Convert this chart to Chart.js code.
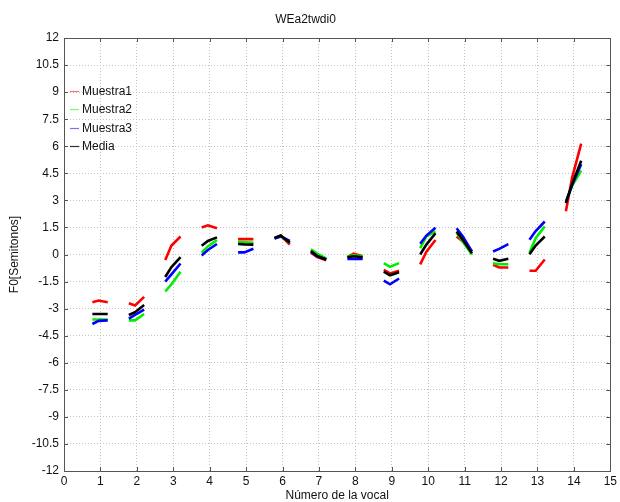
<!DOCTYPE html>
<html>
<head>
<meta charset="utf-8">
<script src="https://cdn.jsdelivr.net/npm/chart.js@4/dist/chart.umd.min.js"></script>
<style>
  html, body { margin: 0; padding: 0; background: #ffffff; }
  #wrap { width: 620px; height: 502px; }
</style>
</head>
<body>
<div id="wrap"><canvas id="c" width="620" height="502"></canvas></div>
<script>
// ---- data ----
const chartTitle = "WEa2twdi0";
const xTitle = "Número de la vocal";
const yTitle = "F0[Semitonos]";
const seriesNames = ["Muestra1", "Muestra2", "Muestra3", "Media"];
const seriesColors = ["#ff0000", "#00ee00", "#0000ff", "#000000"];
const vowels = [1, 2, 3, 4, 5, 6, 7, 8, 9, 10, 11, 12, 13, 14];
const xOffsets = [-0.22, -0.05, 0.2];
const xTicks = [0, 1, 2, 3, 4, 5, 6, 7, 8, 9, 10, 11, 12, 13, 14, 15];
const yTicks = [-12, -10.5, -9, -7.5, -6, -4.5, -3, -1.5, 0, 1.5, 3, 4.5, 6, 7.5, 9, 10.5, 12];

const muestra1 = [
  [-2.65, -2.55, -2.65], [-2.7, -2.83, -2.35], [-0.3, 0.5, 1.0], [1.5, 1.62, 1.45],
  [0.85, 0.85, 0.85], [0.9, 1.05, 0.55], [0.1, -0.15, -0.32], [-0.15, 0.05, -0.1],
  [-0.85, -1.05, -0.9], [-0.55, 0.15, 0.8], [1.0, 0.72, 0.17], [-0.57, -0.72, -0.72],
  [-0.9, -0.9, -0.28], [2.4, 4.25, 6.15]
];
const muestra2 = [
  [-3.6, -3.6, -3.6], [-3.65, -3.65, -3.3], [-2.05, -1.65, -0.95], [0.1, 0.45, 0.8],
  [0.7, 0.68, 0.65], [0.9, 1.03, 0.65], [0.28, 0.05, -0.22], [-0.1, -0.05, -0.1],
  [-0.48, -0.68, -0.48], [0.35, 1.0, 1.28], [1.2, 0.7, 0.0], [-0.48, -0.54, -0.54],
  [0.1, 0.9, 1.56], [2.95, 3.8, 4.65]
];
const muestra3 = [
  [-3.85, -3.68, -3.65], [-3.55, -3.35, -3.05], [-1.5, -1.1, -0.5], [-0.05, 0.25, 0.58],
  [0.12, 0.12, 0.32], [0.88, 1.0, 0.75], [0.15, -0.1, -0.28], [-0.25, -0.25, -0.25],
  [-1.45, -1.65, -1.33], [0.6, 1.05, 1.48], [1.46, 1.0, 0.17], [0.17, 0.31, 0.57],
  [0.82, 1.3, 1.83], [2.9, 3.85, 5.0]
];
const media = [
  [-3.3, -3.3, -3.3], [-3.35, -3.2, -2.8], [-1.25, -0.7, -0.15], [0.48, 0.75, 0.95],
  [0.58, 0.56, 0.55], [0.92, 1.05, 0.65], [0.2, -0.08, -0.28], [-0.15, -0.1, -0.15],
  [-0.95, -1.15, -0.98], [0.0, 0.55, 1.18], [1.28, 0.81, 0.07], [-0.24, -0.35, -0.24],
  [0.02, 0.5, 1.0], [2.85, 3.9, 5.2]
];
const seriesValues = [muestra1, muestra2, muestra3, media];

// ---- build points (segments separated by gaps) ----
function buildPoints(values) {
  const pts = [];
  vowels.forEach((v, i) => {
    values[i].forEach((y, k) => pts.push({ x: v + xOffsets[k], y: y }));
    pts.push({ x: v + 0.4, y: null });
  });
  return pts;
}

const datasets = seriesNames.map((name, i) => ({
  label: name,
  data: buildPoints(seriesValues[i]),
  borderColor: seriesColors[i],
  backgroundColor: seriesColors[i],
  borderWidth: 2.6,
  pointRadius: 0,
  fill: false,
  spanGaps: false,
  tension: 0,
  order: seriesNames.length - 1 - i
}));

const FONT = "'Liberation Sans', Arial, Helvetica, sans-serif";

const framePlugin = {
  id: 'frame',
  afterDraw(chart) {
    const { ctx, chartArea: a, scales } = chart;
    ctx.save();
    // inward ticks
    ctx.strokeStyle = '#555555';
    ctx.lineWidth = 1;
    const tl = 4;
    ctx.beginPath();
    xTicks.forEach(t => {
      const px = Math.round(scales.x.getPixelForValue(t)) + 0.5;
      ctx.moveTo(px, a.bottom); ctx.lineTo(px, a.bottom - tl);
      ctx.moveTo(px, a.top); ctx.lineTo(px, a.top + tl);
    });
    yTicks.forEach(t => {
      const py = Math.round(scales.y.getPixelForValue(t)) + 0.5;
      ctx.moveTo(a.left, py); ctx.lineTo(a.left + tl, py);
      ctx.moveTo(a.right, py); ctx.lineTo(a.right - tl, py);
    });
    ctx.stroke();
    // frame
    ctx.strokeStyle = '#555555';
    ctx.strokeRect(Math.round(a.left) + 0.5, Math.round(a.top) + 0.5,
                   Math.round(a.right - a.left), Math.round(a.bottom - a.top));
    // legend
    ctx.font = '12px ' + FONT;
    ctx.textBaseline = 'middle';
    ctx.textAlign = 'left';
    const lx = a.left + 6, ly = a.top + 53, step = 18.3;
    seriesNames.forEach((name, i) => {
      const y = Math.round(ly + i * step) + 0.5;
      ctx.strokeStyle = seriesColors[i];
      ctx.globalAlpha = i === 3 ? 0.8 : 0.55;
      ctx.lineWidth = 1.2;
      ctx.beginPath();
      ctx.moveTo(lx, y); ctx.lineTo(lx + 9, y);
      ctx.stroke();
      ctx.globalAlpha = 1;
      ctx.fillStyle = '#111111';
      ctx.fillText(name, lx + 12, y);
    });
    ctx.restore();
  }
};

new Chart(document.getElementById('c'), {
  type: 'line',
  data: { datasets },
  plugins: [framePlugin],
  options: {
    responsive: false,
    devicePixelRatio: 1,
    animation: false,
    events: [],
    layout: { padding: { left: 0, right: 9, top: 0, bottom: 0 } },
    plugins: {
      legend: { display: false },
      tooltip: { enabled: false },
      title: {
        display: true,
        text: chartTitle,
        color: '#111111',
        font: { family: FONT, size: 12, weight: 'normal', lineHeight: 1.2 },
        padding: { top: 12, bottom: 11.6 }
      }
    },
    scales: {
      x: {
        type: 'linear',
        min: 0, max: 15,
        afterBuildTicks: s => { s.ticks = xTicks.map(v => ({ value: v })); },
        afterFit: s => { s.height = 31; },
        ticks: { color: '#111111', font: { family: FONT, size: 12 }, padding: 3, maxRotation: 0, autoSkip: false },
        grid: { color: '#c4c4c4', lineWidth: 1, drawTicks: false },
        border: { display: false, dash: [1, 2] },
        title: {
          display: true, text: xTitle, color: '#111111',
          font: { family: FONT, size: 12, lineHeight: 1.0 },
          padding: { top: 0, bottom: 0 }
        }
      },
      y: {
        type: 'linear',
        min: -12, max: 12,
        afterBuildTicks: s => { s.ticks = yTicks.map(v => ({ value: v })); },
        afterFit: s => { s.width = 64; },
        ticks: { color: '#111111', font: { family: FONT, size: 12 }, padding: 5, autoSkip: false },
        grid: { color: '#c4c4c4', lineWidth: 1, drawTicks: false },
        border: { display: false, dash: [1, 2] },
        title: {
          display: true, text: yTitle, color: '#111111',
          font: { family: FONT, size: 12, lineHeight: 1.2 },
          padding: { top: 7, bottom: 0 }
        }
      }
    }
  }
});
</script>
</body>
</html>
